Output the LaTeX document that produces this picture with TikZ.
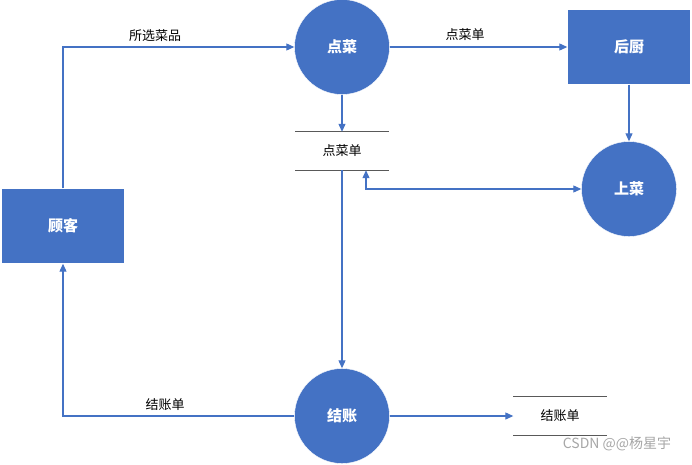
\documentclass[tikz,border=0pt]{standalone}
\usepackage{fontspec}
\setmainfont{Noto Sans CJK SC}
\usetikzlibrary{arrows.meta}

\definecolor{flowblue}{HTML}{4472C4}
\definecolor{storegray}{HTML}{595959}

\tikzset{
  proc/.style={circle, fill=flowblue, draw=white, text=white, minimum size=95pt,
    inner sep=0pt, font=\fontsize{15}{18}\selectfont\bfseries},
  ent/.style={rectangle, fill=flowblue, draw=white, text=white, minimum width=123pt,
    minimum height=75pt, inner sep=0pt, font=\fontsize{15}{18}\selectfont\bfseries},
  store/.style={minimum width=93pt, minimum height=38pt, inner sep=0pt,
    font=\fontsize{13}{15}\selectfont},
  storeline/.style={storegray, line width=0.9pt},
  flow/.style={flowblue, line width=1.1pt, -{Triangle[width=7pt,length=8pt]}},
  lbl/.style={font=\fontsize{13}{15}\selectfont}
}

\begin{document}
\begin{tikzpicture}[x=1pt, y=-1pt]

% Canvas
\useasboundingbox (0,0) rectangle (692,464);

% Processes
\node[proc] (dc) at (342,47) {点菜};
\node[proc] (sc) at (629,189) {上菜};
\node[proc] (jz) at (342,416) {结账};

% External entities
\node[ent] (hc) at (629,47) {后厨};
\node[ent] (gk) at (63,226) {顾客};

% Data stores
\node[store] (dcd) at (342,151) {点菜单};
\node[store] (jzd) at (560,416) {结账单};
\draw[storeline] (dcd.north west) -- (dcd.north east);
\draw[storeline] (dcd.south west) -- (dcd.south east);
\draw[storeline] (jzd.north west) -- (jzd.north east);
\draw[storeline] (jzd.south west) -- (jzd.south east);

% Flows
\draw[flow] (gk.north) |- (dc.west);
\node[lbl] (l1) at (155,36) {所选菜品};

\draw[flow] (dc.east) -- (hc.west);
\node[lbl] (l2) at (465,35) {点菜单};

\draw[flow] (dc.south) -- (dcd.north);
\draw[flow] (hc.south) -- (sc.north);
\draw[flow, {Triangle[width=7pt,length=8pt]}-{Triangle[width=7pt,length=8pt]}]
  ([xshift=24pt]dcd.south) |- (sc.west);
\draw[flow] (dcd.south) -- (jz.north);

\draw[flow] (jz.west) -| (gk.south);
\node[lbl] (l3) at (165,405) {结账单};

\draw[flow] (jz.east) -- (jzd.west);

% Watermark
\node[text=gray!70, font=\fontsize{14}{16}\selectfont] (wm) at (617,444) {CSDN @@杨星宇};

\end{tikzpicture}
\end{document}
